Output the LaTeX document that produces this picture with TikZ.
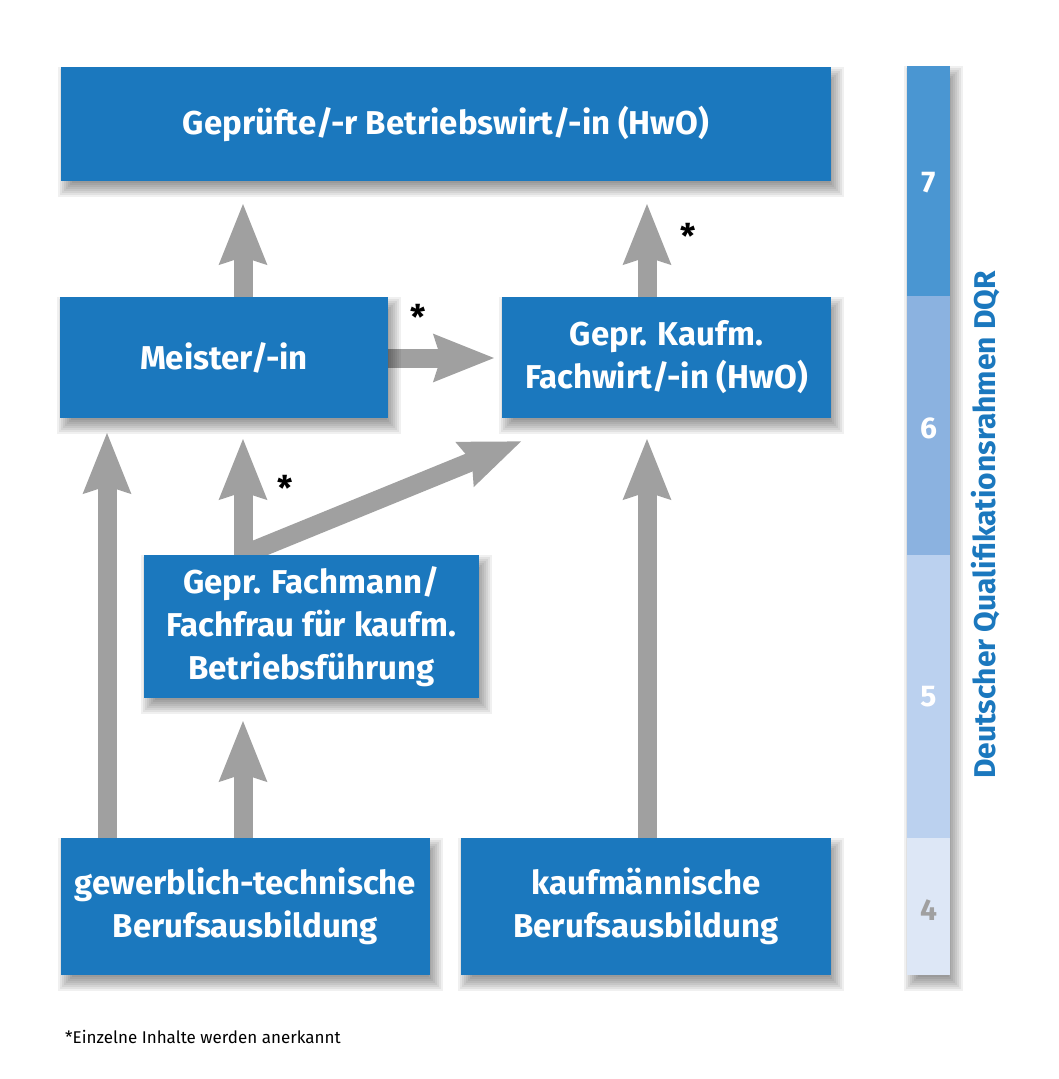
\documentclass[tikz,border=0pt]{standalone}
\usepackage{fontspec}
\setmainfont{Fira Sans}
\usetikzlibrary{arrows.meta}
\pgfdeclarelayer{bglayer}
\pgfdeclarelayer{arrowlayer}
\pgfdeclarelayer{shadowlayer}
\pgfsetlayers{bglayer,arrowlayer,shadowlayer,main}
\definecolor{boxblue}{RGB}{27,120,190}
\definecolor{arrgray}{RGB}{160,160,160}
\definecolor{lvlseven}{RGB}{74,150,210}
\definecolor{lvlsix}{RGB}{139,178,224}
\definecolor{lvlfive}{RGB}{187,209,239}
\definecolor{lvlfour}{RGB}{221,231,246}
\newcommand\softshadow[1]{%
  \begin{pgfonlayer}{shadowlayer}
  \foreach \k in {0,...,7}{%
    \fill[black,opacity=0.06] ([shift={(-3+2*\k,0+2*\k)}]#1.north west) rectangle ([shift={(13-2*\k,16-2*\k)}]#1.south east);
  }
  \end{pgfonlayer}}
\begin{document}
\begin{tikzpicture}[x=1pt,y=-1pt,
  box/.style={fill=boxblue,text=white,font=\fontsize{33}{43}\selectfont\bfseries,
    align=center,inner sep=0pt},
  arr/.style={draw=arrgray,line width=19pt,-{Stealth[length=60pt,width=45pt,inset=6pt]}},
  star/.style={font=\fontsize{34}{34}\selectfont\bfseries,text=black,inner sep=0pt},
  lvlnum/.style={font=\fontsize{30}{30}\selectfont\bfseries,inner sep=0pt}]
\useasboundingbox (0,0) rectangle (1058,1079);
\begin{pgfonlayer}{bglayer}
\fill[white] (0,0) rectangle (1058,1079);
\end{pgfonlayer}
% boxes
\node[box,minimum width=770pt,minimum height=114pt] (top) at (446,124) {Geprüfte/-r Betriebswirt/-in (HwO)};
\node[box,minimum width=328pt,minimum height=121pt] (meister) at (224,357.5) {Meister/-in};
\node[box,minimum width=329pt,minimum height=121pt] (fachwirt) at (666.5,357.5) {Gepr. Kaufm.\\Fachwirt/-in (HwO)};
\node[box,minimum width=335pt,minimum height=143pt] (fachmann) at (311.5,626.5) {Gepr. Fachmann/\\Fachfrau für kaufm.\\Betriebsführung};
\node[box,minimum width=369pt,minimum height=137pt] (gew) at (245.5,906.5) {gewerblich-technische\\Berufsausbildung};
\node[box,minimum width=370pt,minimum height=137pt] (kfm) at (646,906.5) {kaufmännische\\Berufsausbildung};
\softshadow{top}
\softshadow{meister}
\softshadow{fachwirt}
\softshadow{fachmann}
\softshadow{gew}
\softshadow{kfm}
% arrow end points
\coordinate (tipa) at (243,203);
\coordinate (tipb) at (647,203);
\coordinate (tipc) at (495,358);
\coordinate (tipd) at (243,438);
\coordinate (starte) at (250,552);
\coordinate (tipe) at (522,441);
\coordinate (tipf) at (107,432);
\coordinate (tipg) at (243,720);
\coordinate (tiph) at (647,438);
\begin{pgfonlayer}{arrowlayer}
\draw[arr] (meister.north -| tipa) -- (tipa);
\draw[arr] (fachwirt.north -| tipb) -- (tipb);
\draw[arr] (meister.east |- tipc) -- (tipc);
\draw[arr] (fachmann.north -| tipd) -- (tipd);
\draw[arr] (starte) -- (tipe);
\draw[arr] (gew.north -| tipf) -- (tipf);
\draw[arr] (gew.north -| tipg) -- (tipg);
\draw[arr] (kfm.north -| tiph) -- (tiph);
\end{pgfonlayer}
% asterisks
\node[star] (s1) at (688,236) {*};
\node[star] (s2) at (418,317) {*};
\node[star] (s3) at (285,488) {*};
% DQR bar
\node[minimum width=43pt,minimum height=909pt,inner sep=0pt] (bar) at (928.5,520.5) {};
\softshadow{bar}
\fill[lvlseven] (bar.north west) rectangle (950,296);
\fill[lvlsix] (907,296) rectangle (950,555);
\fill[lvlfive] (907,555) rectangle (950,838);
\fill[lvlfour] (907,838) rectangle (bar.south east);
\node[lvlnum,text=white] (n7) at (928.5,183) {7};
\node[lvlnum,text=white] (n6) at (928.5,428) {6};
\node[lvlnum,text=white] (n5) at (928.5,697) {5};
\node[lvlnum,text=arrgray] (n4) at (928.5,910) {4};
\node[rotate=90,text=boxblue,font=\fontsize{30}{30}\selectfont\bfseries,inner sep=0pt] (dqr) at (986,525) {Deutscher Qualifikationsrahmen DQR};
% footnote
\node[anchor=west,font=\fontsize{17}{17}\selectfont,inner sep=0pt] (fn) at (65,1037) {*Einzelne Inhalte werden anerkannt};
\end{tikzpicture}
\end{document}
